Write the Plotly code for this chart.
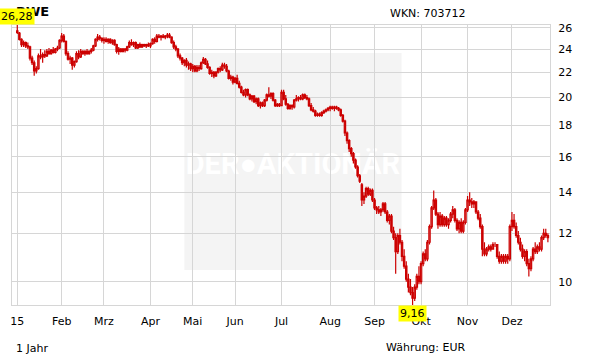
import math
import pandas as pd
import plotly.graph_objects as go

# ---------------- data ----------------
holidays = ["2015-04-03", "2015-04-06", "2015-05-01", "2015-12-24", "2015-12-25"]
days = [d for d in pd.bdate_range("2015-01-02", "2015-12-28")
        if d.strftime("%Y-%m-%d") not in holidays]
dates = [d.strftime("%Y-%m-%d") for d in days]

opens = [
    25.7, 25.5, 24.9, 24.4, 24.6, 24.3, 24.2, 23.2, 22.8, 22.1, 22.3, 23.4, 23.3, 23.5, 23.4, 23.8, 23.6, 23.9, 23.7, 24.0, 24.1,
    24.8, 25.2, 24.7, 23.6, 23.1, 23.2, 22.6, 22.9, 23.6, 23.3, 23.8, 23.6, 23.8, 23.6, 23.8, 23.9, 24.3, 24.9, 25.1, 25.0,
    24.8, 24.9, 24.7, 24.9, 24.6, 24.8, 24.4, 23.8, 24.0, 23.8, 24.0, 23.9, 24.2, 24.6, 24.4, 24.6, 24.1, 24.4, 24.2, 24.4, 24.3, 24.4,
    24.3, 24.5, 24.9, 24.7, 25.2, 25.1, 25.2, 25.1, 25.2, 25.3, 25.1, 24.6, 24.2, 24.0, 23.4, 23.2, 22.8, 23.0, 22.6, 22.7,
    22.3, 22.5, 22.1, 22.4, 22.3, 22.8, 23.1, 22.7, 22.4, 21.9, 22.0, 21.7, 22.0, 22.3, 22.2, 22.6, 22.5, 22.1, 21.5, 21.6,
    21.2, 21.5, 21.1, 20.8, 20.4, 20.2, 20.6, 20.2, 19.9, 20.1, 19.7, 19.9, 19.4, 19.6, 19.4, 19.8, 20.2, 20.1, 20.3, 19.8, 19.4, 19.5,
    19.4, 20.4, 19.9, 19.5, 19.2, 19.4, 19.3, 19.8, 19.9, 20.0, 19.9, 20.2, 20.0, 19.9, 19.4, 19.1, 19.0, 18.7, 18.8, 18.7, 18.9, 19.0, 19.1,
    19.2, 19.3, 19.2, 19.3, 19.2, 19.1, 18.7, 18.3, 17.5, 17.0, 16.5, 16.2, 15.8, 15.4, 14.9, 14.4, 13.6, 13.8, 14.2, 13.9, 14.1,
    13.6, 13.2, 13.1, 13.0, 13.1, 13.4, 13.0, 12.6, 12.8, 12.1, 11.8, 11.2, 11.9, 11.6, 11.0, 10.6, 10.1, 9.8, 9.6, 9.4, 9.8, 10.2,
    10.0, 10.7, 11.1, 10.9, 11.6, 12.3, 13.2, 13.6, 12.9, 12.4, 12.8, 12.4, 12.7, 12.4, 12.6, 12.9, 13.1, 12.6, 12.2, 12.5, 12.1, 12.5,
    13.1, 13.6, 13.5, 13.4, 13.5, 13.0, 12.7, 12.3, 11.3, 11.1, 11.3, 11.4, 11.3, 11.5, 11.5, 11.0, 10.8, 11.0, 10.8, 11.0, 10.9,
    12.3, 12.6, 12.3, 11.9, 11.6, 11.3, 11.0, 11.2, 10.7, 10.5, 10.9, 11.3, 11.2, 11.4, 11.3, 11.8, 12.0, 11.9,
]
highs = [
    26.28, 25.6, 25.0, 24.8, 24.7, 24.6, 24.3, 23.4, 23.0, 22.5, 23.6, 24.0, 23.7, 23.9, 24.0, 24.1, 24.0, 24.2, 24.1, 24.3, 24.9,
    25.5, 25.4, 24.8, 23.8, 23.4, 23.3, 23.0, 23.8, 23.9, 24.0, 23.9, 23.9, 24.0, 23.9, 24.1, 24.4, 25.0, 25.4, 25.3, 25.1,
    25.1, 25.1, 25.0, 25.0, 24.9, 24.9, 24.5, 24.2, 24.1, 24.1, 24.1, 24.3, 24.8, 24.9, 24.7, 24.7, 24.5, 24.6, 24.5, 24.5, 24.5, 24.6,
    24.6, 25.0, 25.1, 25.4, 25.4, 25.3, 25.4, 25.3, 25.5, 25.5, 25.2, 24.8, 24.4, 24.1, 23.6, 23.3, 23.1, 23.2, 22.9, 22.8,
    22.7, 22.6, 22.6, 22.6, 22.9, 23.3, 23.2, 23.0, 22.5, 22.2, 22.1, 22.1, 22.4, 22.5, 22.8, 22.8, 22.7, 22.2, 21.8, 21.7,
    21.6, 21.8, 21.3, 20.9, 20.6, 20.7, 20.7, 20.3, 20.2, 20.2, 20.0, 20.0, 19.7, 19.7, 19.9, 20.3, 20.8, 20.4, 20.4, 19.9, 19.6, 19.6,
    20.6, 20.6, 20.2, 19.6, 19.5, 19.5, 19.9, 20.2, 20.1, 20.2, 20.3, 20.3, 20.2, 20.0, 19.6, 19.3, 19.1, 18.9, 18.9, 19.0, 19.1, 19.2, 19.3,
    19.4, 19.4, 19.4, 19.4, 19.3, 19.2, 18.8, 18.4, 17.6, 17.1, 16.6, 16.3, 15.9, 15.5, 15.0, 14.5, 14.0, 14.3, 14.3, 14.2, 14.2,
    13.7, 13.3, 13.3, 13.2, 13.5, 13.5, 13.1, 12.9, 12.9, 12.3, 12.0, 12.0, 12.2, 11.7, 11.3, 10.8, 10.3, 10.1, 9.8, 9.9, 10.3, 10.6,
    10.8, 11.2, 11.3, 11.7, 12.4, 13.3, 14.1, 13.7, 13.0, 13.0, 12.9, 12.8, 12.8, 12.7, 13.0, 13.3, 13.2, 12.7, 12.6, 12.7, 12.6, 13.2,
    13.8, 14.0, 13.7, 13.6, 13.5, 13.1, 12.9, 12.4, 11.6, 11.4, 11.5, 11.5, 11.6, 11.6, 11.5, 11.2, 11.1, 11.1, 11.1, 11.1, 12.4,
    13.0, 12.9, 12.5, 12.1, 11.8, 11.5, 11.3, 11.3, 10.9, 11.0, 11.4, 11.6, 11.5, 11.6, 11.9, 12.2, 12.2, 12.0,
]
lows = [
    25.4, 24.8, 24.2, 24.2, 24.1, 24.0, 23.0, 22.6, 21.7, 21.9, 22.2, 23.1, 22.8, 23.2, 23.3, 23.5, 23.5, 23.6, 23.6, 23.8, 24.0,
    24.6, 24.6, 23.4, 23.0, 22.7, 22.2, 22.4, 22.8, 23.1, 23.2, 23.5, 23.4, 23.5, 23.5, 23.6, 23.8, 24.2, 24.7, 24.8, 24.6,
    24.5, 24.6, 24.5, 24.5, 24.4, 24.3, 23.6, 23.5, 23.7, 23.7, 23.7, 23.8, 24.1, 24.3, 24.2, 24.0, 24.0, 24.1, 24.1, 24.2, 24.1, 24.2,
    24.1, 24.4, 24.5, 24.6, 25.0, 24.8, 25.0, 24.9, 25.0, 25.0, 24.5, 24.0, 23.8, 23.2, 23.0, 22.6, 22.5, 22.4, 22.2, 22.1,
    22.0, 22.0, 22.0, 22.1, 22.2, 22.7, 22.6, 22.3, 21.8, 21.6, 21.5, 21.6, 21.9, 22.0, 22.1, 22.3, 22.0, 21.4, 21.3, 21.0,
    21.1, 21.0, 20.7, 20.3, 20.1, 20.0, 20.1, 19.8, 19.7, 19.6, 19.5, 19.3, 19.2, 19.3, 19.3, 19.7, 20.0, 19.9, 19.7, 19.3, 19.3, 19.3,
    19.4, 19.8, 19.4, 19.1, 19.1, 19.1, 19.2, 19.7, 19.7, 19.8, 19.8, 19.9, 19.8, 19.3, 19.0, 18.9, 18.6, 18.6, 18.6, 18.6, 18.8, 18.9, 19.0,
    19.0, 19.1, 19.0, 19.1, 19.0, 18.6, 18.2, 17.3, 16.8, 16.3, 16.0, 15.6, 15.3, 14.8, 14.5, 13.3, 13.4, 13.7, 13.8, 13.8, 13.5,
    13.1, 12.9, 12.9, 12.8, 13.0, 12.9, 12.5, 12.4, 12.0, 11.7, 10.3, 11.1, 11.5, 10.8, 10.5, 10.0, 9.6, 9.5, 9.16, 9.3, 9.7, 9.9,
    9.9, 10.6, 10.8, 10.8, 11.5, 12.2, 13.1, 12.8, 12.2, 12.3, 12.3, 12.3, 12.3, 12.2, 12.5, 12.7, 12.5, 12.1, 12.0, 12.0, 12.0, 12.4,
    13.0, 13.3, 13.2, 13.2, 12.9, 12.6, 12.2, 11.0, 11.0, 11.0, 11.2, 11.2, 11.3, 11.4, 10.9, 10.7, 10.7, 10.7, 10.7, 10.7, 10.8,
    12.1, 12.2, 11.8, 11.5, 11.2, 10.9, 10.8, 10.6, 10.2, 10.4, 10.8, 11.1, 11.1, 11.2, 11.2, 11.7, 11.8, 11.6,
]
closes = [
    25.55, 24.9, 24.4, 24.6, 24.3, 24.2, 23.2, 22.8, 22.1, 22.3, 23.4, 23.3, 23.5, 23.4, 23.8, 23.6, 23.9, 23.7, 24.0, 24.1, 24.8,
    25.2, 24.7, 23.6, 23.1, 23.2, 22.6, 22.9, 23.6, 23.3, 23.8, 23.6, 23.8, 23.6, 23.8, 23.9, 24.3, 24.9, 25.1, 25.0, 24.8,
    24.9, 24.7, 24.9, 24.6, 24.8, 24.4, 23.8, 24.0, 23.8, 24.0, 23.9, 24.2, 24.6, 24.4, 24.6, 24.1, 24.4, 24.2, 24.4, 24.3, 24.4, 24.3,
    24.5, 24.9, 24.7, 25.2, 25.1, 25.2, 25.1, 25.2, 25.3, 25.1, 24.6, 24.2, 24.0, 23.4, 23.2, 22.8, 23.0, 22.6, 22.7, 22.3,
    22.5, 22.1, 22.4, 22.3, 22.8, 23.1, 22.7, 22.4, 21.9, 22.0, 21.7, 22.0, 22.3, 22.2, 22.6, 22.5, 22.1, 21.5, 21.6, 21.2,
    21.5, 21.1, 20.8, 20.4, 20.2, 20.6, 20.2, 19.9, 20.1, 19.7, 19.9, 19.4, 19.6, 19.4, 19.8, 20.2, 20.1, 20.3, 19.8, 19.4, 19.5, 19.4,
    20.4, 19.9, 19.5, 19.2, 19.4, 19.3, 19.8, 19.9, 20.0, 19.9, 20.2, 20.0, 19.9, 19.4, 19.1, 19.0, 18.7, 18.8, 18.7, 18.9, 19.0, 19.1, 19.2,
    19.3, 19.2, 19.3, 19.2, 19.1, 18.7, 18.3, 17.5, 17.0, 16.5, 16.2, 15.8, 15.4, 14.9, 14.6, 13.6, 13.8, 14.2, 13.9, 14.1, 13.6,
    13.2, 13.1, 13.0, 13.1, 13.4, 13.0, 12.6, 12.8, 12.1, 11.8, 11.2, 11.9, 11.6, 11.0, 10.6, 10.1, 9.8, 9.6, 9.4, 9.8, 10.2, 10.0,
    10.7, 11.1, 10.9, 11.6, 12.3, 13.2, 13.6, 12.9, 12.4, 12.8, 12.4, 12.7, 12.4, 12.6, 12.9, 13.1, 12.6, 12.2, 12.5, 12.1, 12.5, 13.1,
    13.6, 13.5, 13.4, 13.5, 13.0, 12.7, 12.3, 11.3, 11.1, 11.3, 11.4, 11.3, 11.5, 11.5, 11.0, 10.8, 11.0, 10.8, 11.0, 10.9, 12.3,
    12.6, 12.3, 11.9, 11.6, 11.3, 11.0, 11.2, 10.7, 10.5, 10.9, 11.3, 11.2, 11.4, 11.3, 11.8, 12.0, 11.9, 11.8,
]

month_labels = ["15", "Feb", "Mrz", "Apr", "Mai", "Jun", "Jul", "Aug", "Sep", "Okt", "Nov", "Dez"]
y_ticks = [10, 12, 14, 16, 18, 20, 22, 24, 26]

title_text = "RWE"
wkn_text = "WKN: 703712"
period_text = "1 Jahr"
currency_text = "Währung: EUR"
watermark_text = "DER●AKTIONÄR"

n = len(dates)
assert len(opens) == len(highs) == len(lows) == len(closes) == n, (len(opens), len(highs), len(lows), len(closes), n)

# first trading day of every month
month_first = []
seen = set()
for d in days:
    if d.month not in seen:
        seen.add(d.month)
        month_first.append(d.strftime("%Y-%m-%d"))

RED = "#cc0000"
GRID = "#d6d6d6"
FONT = "DejaVu Sans"

fig = go.Figure()
fig.add_trace(go.Candlestick(
    x=dates, open=opens, high=highs, low=lows, close=closes,
    increasing=dict(line=dict(color=RED, width=1.2), fillcolor="white"),
    decreasing=dict(line=dict(color=RED, width=1.2), fillcolor=RED),
    whiskerwidth=0, showlegend=False, hoverinfo="skip",
))

# plot-area pixel helpers (plot area: x 10..550, y 25..305)
PL, PR, PT, PB = 10, 550, 25, 305
def px(x):
    return (x - PL) / (PR - PL)
def py(y):
    return (PB - y) / (PB - PT)

imax = max(range(n), key=lambda i: highs[i])
imin = min(range(n), key=lambda i: lows[i])
hmax = highs[imax]
lmin = lows[imin]

annotations = [
    dict(xref="paper", yref="paper", x=px(12), y=py(12), xanchor="left", yanchor="middle",
         text="<b>" + title_text + "</b>", showarrow=False, font=dict(family=FONT, size=13, color="black")),
    dict(x=dates[imax], y=math.log10(hmax), xanchor="center", yanchor="bottom",
         text=f"{hmax:.2f}".replace(".", ","), showarrow=False, bgcolor="#ffff00",
         borderpad=1, font=dict(family=FONT, size=11, color="black")),
    dict(x=dates[imin], y=math.log10(lmin), xanchor="center", yanchor="top",
         text=f"{lmin:.2f}".replace(".", ","), showarrow=False, bgcolor="#ffff00",
         borderpad=1, font=dict(family=FONT, size=11, color="black")),
    dict(xref="paper", yref="paper", x=px(468), y=py(14), xanchor="right", yanchor="middle",
         text=wkn_text, showarrow=False, font=dict(family=FONT, size=11, color="black")),
    dict(xref="paper", yref="paper", x=px(12), y=py(348), xanchor="left", yanchor="middle",
         text=period_text, showarrow=False, font=dict(family=FONT, size=11, color="black")),
    dict(xref="paper", yref="paper", x=px(468), y=py(347), xanchor="right", yanchor="middle",
         text=currency_text, showarrow=False, font=dict(family=FONT, size=11, color="black")),
]

shapes = [
    dict(type="rect", xref="paper", yref="paper", x0=px(183), x1=px(401), y0=py(270), y1=py(53),
         fillcolor="#f4f4f4", line=dict(width=0), layer="below",
         label=dict(text="<b>" + watermark_text + "</b>", textposition="middle center",
                    font=dict(family="Roboto", size=29, color="white"))),
]

fig.update_layout(
    width=611, height=364,
    margin=dict(l=PL, r=611 - PR, t=PT, b=364 - PB, pad=0),
    paper_bgcolor="white", plot_bgcolor="white",
    font=dict(family=FONT, size=11, color="black"),
    showlegend=False,
    boxgap=0.1,
    annotations=annotations,
    shapes=shapes,
    xaxis=dict(
        type="category", categoryorder="array", categoryarray=dates,
        range=[-2.5, n - 0.0],
        tickmode="array", tickvals=month_first, ticktext=month_labels,
        showgrid=True, gridcolor=GRID, gridwidth=1,
        showline=True, linecolor=GRID, linewidth=1, mirror=True,
        ticks="", ticklabelstandoff=6, zeroline=False,
        rangeslider=dict(visible=False), fixedrange=True,
    ),
    yaxis=dict(
        type="log", side="right",
        range=[math.log10(lmin), math.log10(hmax)],
        tickmode="array", tickvals=y_ticks, ticktext=[str(v) for v in y_ticks],
        showgrid=True, gridcolor=GRID, gridwidth=1,
        showline=True, linecolor=GRID, linewidth=1, mirror=True,
        ticks="", ticklabelstandoff=5, zeroline=False, fixedrange=True,
    ),
)

fig.write_html("out.html")
